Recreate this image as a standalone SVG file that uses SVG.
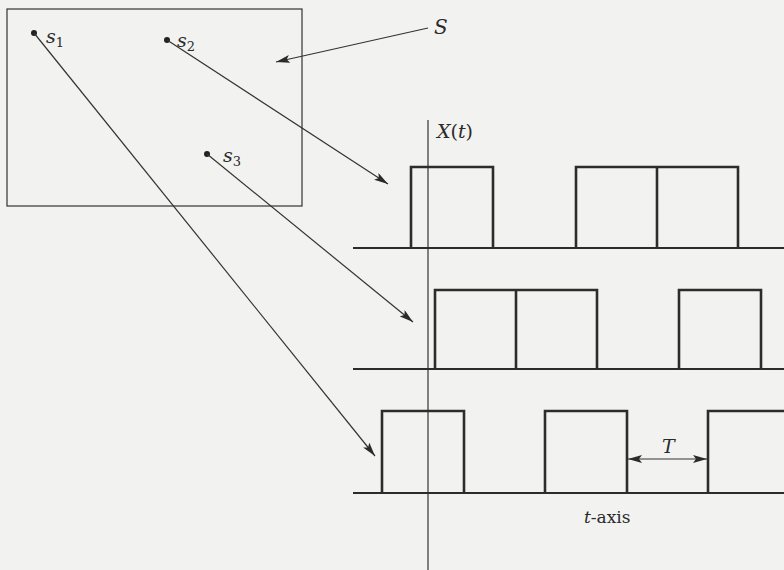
<svg xmlns="http://www.w3.org/2000/svg" width="784" height="570" viewBox="0 0 784 570">
<style>
text{font-family:'DejaVu Serif','Liberation Serif',serif;fill:#2a2a2a}
.it{font-style:italic}
.up{font-style:normal}
.thin{stroke:#333;stroke-width:1.2;fill:none}
.base{stroke:#2c2c2c;stroke-width:1.8;fill:none}
.pulse{stroke:#2c2c2c;stroke-width:2.6;fill:none;stroke-linejoin:miter}
</style>
<defs>
<marker id="ah" viewBox="0 0 14 8" refX="14" refY="4" markerWidth="14" markerHeight="8" markerUnits="userSpaceOnUse" orient="auto-start-reverse">
<path d="M0,0 L14,4 L0,8 L3,4 Z" fill="#2a2a2a"/>
</marker>
</defs>
<rect width="784" height="570" fill="#f2f2f0"/>
<g id="sample-space">
<rect x="7" y="9" width="295" height="197" class="thin"/>
<text x="434" y="34" class="it" font-size="20">S</text>
</g>
<g id="s1">
<circle cx="34" cy="33" r="3" fill="#222"/>
<text x="46" y="43" class="it" font-size="19">s<tspan class="up" font-size="13" dy="4">1</tspan></text>
</g>
<g id="s2">
<circle cx="167" cy="40" r="3" fill="#222"/>
<text x="177" y="47" class="it" font-size="19">s<tspan class="up" font-size="13" dy="4">2</tspan></text>
</g>
<g id="s3">
<circle cx="207" cy="154" r="3" fill="#222"/>
<text x="223" y="162" class="it" font-size="19">s<tspan class="up" font-size="13" dy="4">3</tspan></text>
</g>
<g id="axis">
<line x1="428" y1="120" x2="428" y2="570" class="thin"/>
<text x="437" y="138" class="it" font-size="19">X<tspan class="up">(</tspan>t<tspan class="up">)</tspan></text>
<text x="584" y="523" font-size="17"><tspan class="it">t</tspan>-axis</text>
</g>
<g id="wave1">
<line x1="353" y1="248" x2="784" y2="248" class="base"/>
<path d="M411,248 V167 H493 V248" class="pulse"/>
<path d="M576,248 V167 H738 V248 M657,167 V248" class="pulse"/>
</g>
<g id="wave2">
<line x1="353" y1="369" x2="784" y2="369" class="base"/>
<path d="M435,369 V290 H597 V369 M516,290 V369" class="pulse"/>
<path d="M679,369 V290 H761 V369" class="pulse"/>
</g>
<g id="wave3">
<line x1="353" y1="493" x2="784" y2="493" class="base"/>
<path d="M382,493 V411 H464 V493" class="pulse"/>
<path d="M545,493 V411 H627 V493" class="pulse"/>
<path d="M708,493 V411 H784" class="pulse"/>
<text x="662" y="453" class="it" font-size="19">T</text>
</g>
<g id="connectors">
<line x1="428" y1="28" x2="276" y2="62" class="thin" marker-end="url(#ah)"/>
<line x1="167" y1="40" x2="388" y2="184" class="thin" marker-end="url(#ah)"/>
<line x1="207" y1="154" x2="413" y2="322" class="thin" marker-end="url(#ah)"/>
<line x1="34" y1="33" x2="375" y2="456" class="thin" marker-end="url(#ah)"/>
<line x1="628" y1="459" x2="707" y2="459" class="thin" marker-start="url(#ah)" marker-end="url(#ah)"/>
</g>
</svg>
